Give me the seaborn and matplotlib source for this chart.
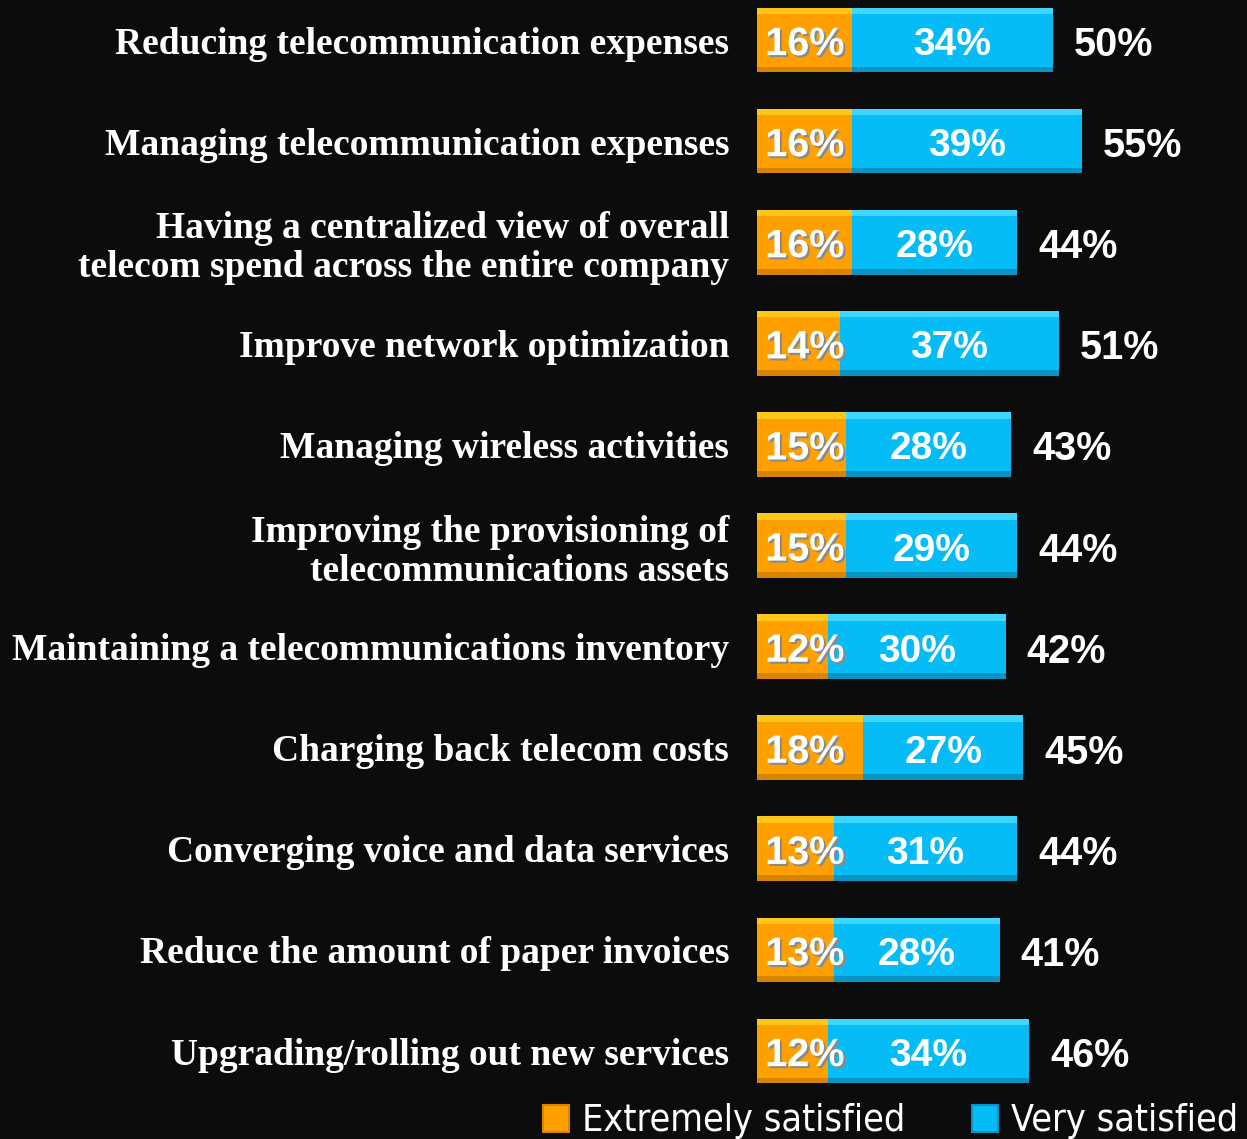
import matplotlib
matplotlib.use("Agg")
import matplotlib.pyplot as plt
import matplotlib.patheffects as pe
from matplotlib.patches import Patch, Rectangle
import seaborn as sns
import pandas as pd

categories = [
    "Reducing telecommunication expenses",
    "Managing telecommunication expenses",
    "Having a centralized view of overall\ntelecom spend across the entire company",
    "Improve network optimization",
    "Managing wireless activities",
    "Improving the provisioning of\ntelecommunications assets",
    "Maintaining a telecommunications inventory",
    "Charging back telecom costs",
    "Converging voice and data services",
    "Reduce the amount of paper invoices",
    "Upgrading/rolling out new services",
]
extremely = [16, 16, 16, 14, 15, 15, 12, 18, 13, 13, 12]
very = [34, 39, 28, 37, 28, 29, 30, 27, 31, 28, 34]
totals = [50, 55, 44, 51, 43, 44, 42, 45, 44, 41, 46]

series_names = ["Extremely satisfied", "Very satisfied"]

BG = "#0c0c0c"
ORANGE = "#ffa000"
BLUE = "#05bcf7"

sns.set_theme(style="dark")
plt.rcParams["font.family"] = ["Liberation Sans", "DejaVu Sans"]

df = pd.DataFrame({"category": categories, "extremely": extremely,
                   "very": very, "total": totals})

fig = plt.figure(figsize=(12.47, 11.39), dpi=100, facecolor=BG)
ax = fig.add_axes([0.607, 0.0, 0.393, 1.0])
ax.set_facecolor(BG)

# full-length bar (blue) then the orange segment drawn over it
sns.barplot(data=df, y="category", x="total", order=categories, color=BLUE,
            width=0.64, saturation=1, linewidth=0, ax=ax)
n_blue = len(ax.patches)
sns.barplot(data=df, y="category", x="extremely", order=categories, color=ORANGE,
            width=0.64, saturation=1, linewidth=0, ax=ax)

# bevel: light strip on top, darker strip at the bottom of each bar
for i, p in enumerate(list(ax.patches)):
    x0, y0 = p.get_x(), p.get_y()
    w, h = p.get_width(), p.get_height()
    if i < n_blue:
        light, dark = "#3fd6ff", "#0a94c4"
    else:
        light, dark = "#ffc61a", "#d98400"
    ax.add_patch(Rectangle((x0, y0), w, h * 0.10, color=light, lw=0, zorder=p.get_zorder() + 0.1))
    ax.add_patch(Rectangle((x0, y0 + h * 0.91), w, h * 0.09, color=dark, lw=0, zorder=p.get_zorder() + 0.1))

label_shadow = [pe.SimplePatchShadow(offset=(1.5, -1.5), shadow_rgbFace="#8a8a8a", alpha=1.0), pe.Normal()]
for i, cat in enumerate(categories):
    e, v, t = extremely[i], very[i], totals[i]
    ax.text(1.4, i + 0.04, f"{e}%", ha="left", va="center", color="white",
            fontsize=28.5, fontweight="bold", zorder=5, path_effects=label_shadow)
    ax.text(e + v / 2, i + 0.05, f"{v}%", ha="center", va="center", color="white",
            fontsize=28, fontweight="bold", zorder=5)
    ax.text(t + 3.5, i + 0.05, f"{t}%", ha="left", va="center", color="white",
            fontsize=28.5, fontweight="bold", zorder=5)

ax.set_xlim(0, 82.8)
ax.set_ylim(10.87, -0.396)
ax.set_xlabel("")
ax.set_ylabel("")
ax.set_xticks([])
ax.tick_params(axis="y", length=0, pad=20)
for lbl in ax.get_yticklabels():
    lbl.set_fontfamily(["Liberation Serif", "DejaVu Serif"])
    lbl.set_fontweight("bold")
    lbl.set_fontsize(27)
    lbl.set_color("white")
    lbl.set_multialignment("right")
    lbl.set_linespacing(1.15)
for s in ax.spines.values():
    s.set_visible(False)
ax.grid(False)

handles = [Patch(facecolor=ORANGE, edgecolor="#d98400", linewidth=1.5),
           Patch(facecolor=BLUE, edgecolor="#0a94c4", linewidth=1.5)]
leg = fig.legend(handles, series_names, loc="lower right", bbox_to_anchor=(1.02, -0.03),
                 ncol=2, frameon=False, handlelength=0.68, handleheight=0.72,
                 handletextpad=0.35, columnspacing=1.8,
                 prop={"family": ["DejaVu Sans"], "stretch": "condensed", "size": 27})
for t in leg.get_texts():
    t.set_color("white")

fig.savefig("out.png", dpi=100, facecolor=BG)
